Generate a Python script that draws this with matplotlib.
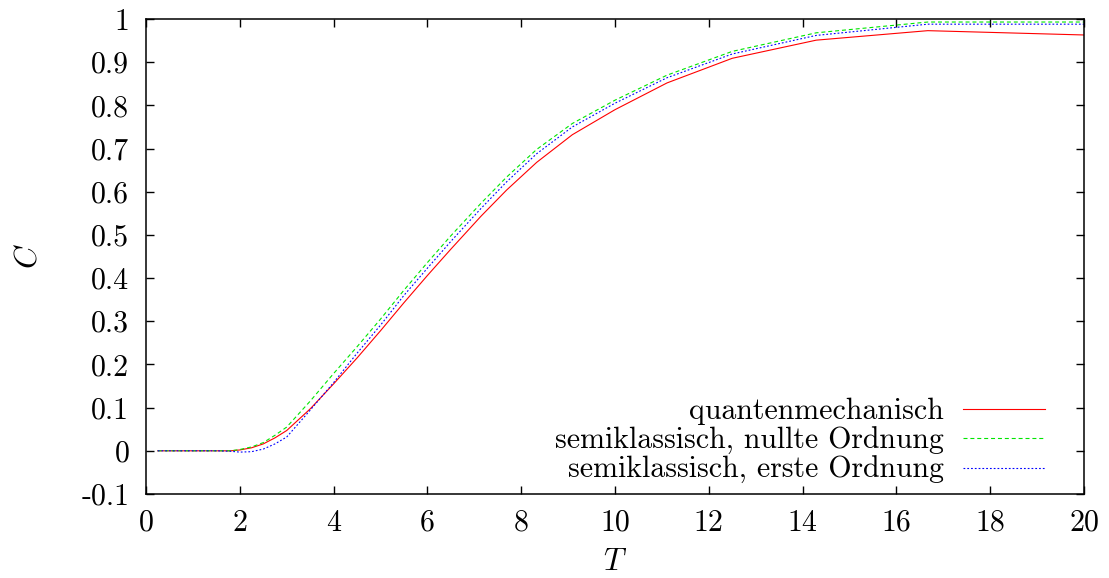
import matplotlib
matplotlib.use("Agg")
import matplotlib.pyplot as plt
from matplotlib.ticker import FixedLocator, FixedFormatter

T = [0.25, 0.5, 1.0, 1.5, 1.8, 2.0, 2.25, 2.5, 2.75, 3.0, 3.5, 4.0, 4.5, 5.0,
     5.5, 6.0, 6.5, 7.14, 7.69, 8.33, 9.09, 10.0, 11.11, 12.5, 14.29, 16.67, 20.0]

# quantenmechanisch
C_qm = [0.0, 0.0, 0.0, 0.0, 0.0, 0.002, 0.007, 0.016, 0.030, 0.047, 0.097, 0.155,
        0.215, 0.278, 0.343, 0.406, 0.467, 0.543, 0.604, 0.668, 0.732, 0.790,
        0.852, 0.909, 0.951, 0.973, 0.963]
# semiklassisch, nullte Ordnung
C_sk0 = [0.0, 0.0, 0.0, 0.0, 0.0, 0.003, 0.009, 0.019, 0.036, 0.055, 0.115, 0.179,
         0.241, 0.305, 0.372, 0.436, 0.498, 0.573, 0.634, 0.698, 0.758, 0.812,
         0.870, 0.925, 0.968, 0.993, 0.993]
# semiklassisch, erste Ordnung
C_sk1 = [0.0, 0.0, 0.0, 0.0, -0.001, -0.003, -0.002, 0.004, 0.016, 0.032, 0.094, 0.158,
         0.226, 0.291, 0.360, 0.423, 0.485, 0.561, 0.623, 0.688, 0.750, 0.805,
         0.864, 0.919, 0.962, 0.988, 0.988]

labels = ["quantenmechanisch", "semiklassisch, nullte Ordnung", "semiklassisch, erste Ordnung"]

xticks = [0, 2, 4, 6, 8, 10, 12, 14, 16, 18, 20]
xticklabels = ["0", "2", "4", "6", "8", "10", "12", "14", "16", "18", "20"]
yticks = [-0.1, 0, 0.1, 0.2, 0.3, 0.4, 0.5, 0.6, 0.7, 0.8, 0.9, 1]
yticklabels = ["-0.1", "0", "0.1", "0.2", "0.3", "0.4", "0.5", "0.6", "0.7", "0.8", "0.9", "1"]

plt.rcParams["font.family"] = "serif"
plt.rcParams["font.serif"] = ["cmr10"]
plt.rcParams["mathtext.fontset"] = "cm"
plt.rcParams["axes.unicode_minus"] = False
fs = 21.5

fig = plt.figure(figsize=(11.09, 5.78), dpi=100)
ax = fig.add_axes([146/1109, 1-494/578, 938/1109, 475/578])

ax.plot(T, C_qm, color="#ff0000", lw=0.8, label=labels[0])
ax.plot(T, C_sk0, color="#00e600", lw=0.8, dashes=(3.6, 2.6), label=labels[1])
ax.plot(T, C_sk1, color="#0000ff", lw=0.8, dashes=(1.6, 1.8), label=labels[2])

ax.set_xlim(0, 20)
ax.set_ylim(-0.1, 1)
ax.xaxis.set_major_locator(FixedLocator(xticks))
ax.xaxis.set_major_formatter(FixedFormatter(xticklabels))
ax.yaxis.set_major_locator(FixedLocator(yticks))
ax.yaxis.set_major_formatter(FixedFormatter(yticklabels))
ax.tick_params(direction="in", length=6, width=1.0, top=True, right=True,
               labelsize=fs)
ax.tick_params(axis="y", pad=12)
ax.tick_params(axis="x", pad=11)
for s in ax.spines.values():
    s.set_linewidth(1.1)

ax.set_xlabel("$T$", fontsize=fs + 1, labelpad=8)
ax.set_ylabel("$C$", fontsize=fs + 1, labelpad=28)

ax.legend(loc="lower right", bbox_to_anchor=(0.958, 0.02), markerfirst=False,
          frameon=False, fontsize=fs, handlelength=2.74, handletextpad=0.64,
          labelspacing=0.05, borderaxespad=0, borderpad=0)

fig.savefig("out.png", dpi=100)
